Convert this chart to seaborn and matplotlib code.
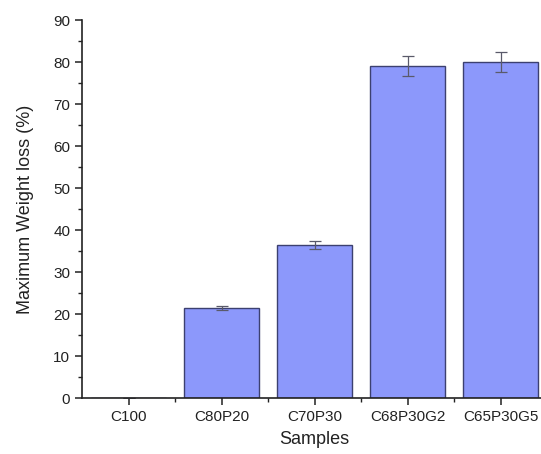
import numpy as np
import pandas as pd
import seaborn as sns
import matplotlib.pyplot as plt
from matplotlib.ticker import MultipleLocator, FixedLocator

# Data
samples = ["C100", "C80P20", "C70P30", "C68P30G2", "C65P30G5"]
weight_loss = [0.0, 21.4, 36.4, 79.1, 80.0]
weight_loss_err = [0.0, 0.5, 1.0, 2.4, 2.4]

df = pd.DataFrame({"sample": samples, "loss": weight_loss, "err": weight_loss_err})

sns.set_theme(style="ticks")
plt.rcParams['font.family'] = ['Liberation Sans', 'DejaVu Sans']

fig = plt.figure(figsize=(5.41, 4.54), dpi=100)
ax = fig.add_axes([0.1516, 0.1233, 0.8595, 0.8326])

sns.barplot(data=df, x="sample", y="loss", color="#8c98fb", saturation=1,
            edgecolor="#3c4070", linewidth=1.0, width=0.8, errorbar=None, ax=ax)
ax.errorbar(np.arange(len(samples)), df["loss"], yerr=df["err"], fmt="none",
            ecolor="#5a5a6a", elinewidth=0.9, capsize=4, capthick=0.9)

ax.set_xlim(-0.5, len(samples) - 0.5)
ax.set_ylim(0, 90)
ax.yaxis.set_major_locator(MultipleLocator(10))
ax.yaxis.set_minor_locator(MultipleLocator(5))
ax.xaxis.set_minor_locator(FixedLocator(np.arange(len(samples) - 1) + 0.5))

for s in ["top", "right"]:
    ax.spines[s].set_visible(False)
for s in ["left", "bottom"]:
    ax.spines[s].set_color("#222222")
    ax.spines[s].set_linewidth(1.2)

ax.tick_params(axis="both", which="major", direction="out", length=5, width=1.1,
               color="#222222", labelsize=11, labelcolor="#222222")
ax.tick_params(axis="both", which="minor", direction="out", length=3, width=1.0,
               color="#222222")

ax.set_xlabel("Samples", fontsize=13, color="#222222", labelpad=5)
ax.set_ylabel("Maximum Weight loss (%)", fontsize=13, color="#222222", labelpad=14)

fig.savefig("out.png", dpi=100)
